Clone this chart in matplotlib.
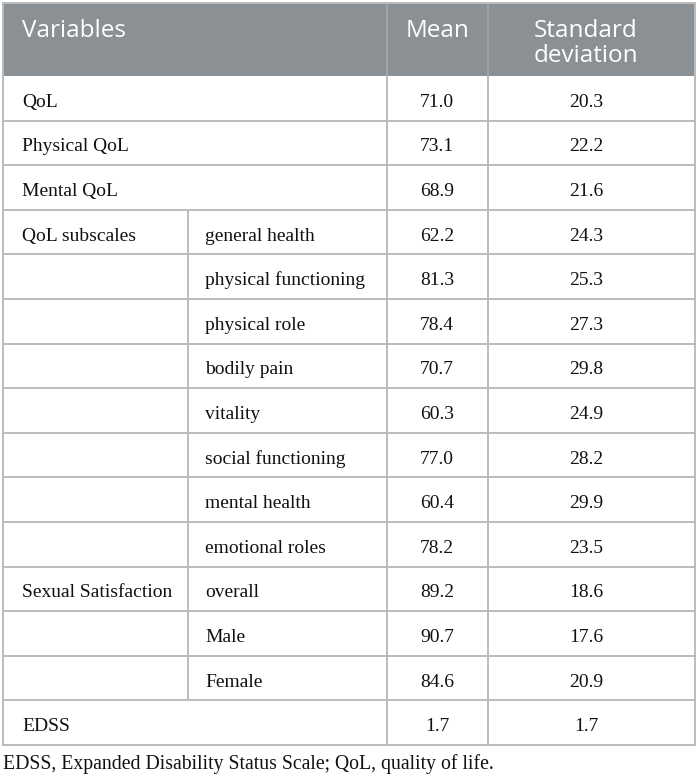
import matplotlib.pyplot as plt
from matplotlib.patches import Rectangle

# Table content
variables = ['QoL', 'Physical QoL', 'Mental QoL', 'QoL subscales', '', '', '', '', '', '', '',
             'Sexual Satisfaction', '', '', 'EDSS']
subscales = ['', '', '', 'general health', 'physical functioning', 'physical role', 'bodily pain',
             'vitality', 'social functioning', 'mental health', 'emotional roles',
             'overall', 'Male', 'Female', '']
means = [71.0, 73.1, 68.9, 62.2, 81.3, 78.4, 70.7, 60.3, 77.0, 60.4, 78.2, 89.2, 90.7, 84.6, 1.7]
sds = [20.3, 22.2, 21.6, 24.3, 25.3, 27.3, 29.8, 24.9, 28.2, 29.9, 23.5, 18.6, 17.6, 20.9, 1.7]
headers = ['Variables', 'Mean', 'Standard\ndeviation']
footnote = 'EDSS, Expanded Disability Status Scale; QoL, quality of life.'

# Layout (pixels)
W, H = 697, 780
left, right = 3, 695
col1_x, mean_x, sd_x = 188, 387, 488
top, head_bot = 3, 76
row_h = 44.6
line_col = '#bcbcbc'
head_col = '#8a9093'

fig = plt.figure(figsize=(W / 100, H / 100), dpi=100)
ax = fig.add_axes([0, 0, 1, 1])
ax.set_xlim(0, W)
ax.set_ylim(H, 0)
ax.axis('off')

# header
ax.add_patch(Rectangle((left, top), right - left, head_bot - top, facecolor=head_col,
                       edgecolor='none', zorder=1))
ax.plot([mean_x, mean_x], [top, head_bot], color='#a3a8ab', lw=1.2, zorder=2)
ax.plot([sd_x, sd_x], [top, head_bot], color='#a3a8ab', lw=1.2, zorder=2)
hfont = dict(family='Open Sans', fontsize=17.5, color='white', va='top', linespacing=1.05)
ax.text(22, 19, headers[0], ha='left', **hfont)
ax.text((mean_x + sd_x) / 2, 19, headers[1], ha='center', **hfont)
ax.text(586, 19, headers[2], ha='center', multialignment='center', **hfont)

# body
n = len(variables)
bottom = head_bot + n * row_h
bfont = dict(family='Liberation Serif', fontsize=14, color='#111111', va='baseline')
for i in range(n):
    y0 = head_bot + i * row_h
    base = y0 + row_h * 0.69
    ax.text(22, base, variables[i], ha='left', **bfont)
    if subscales[i]:
        ax.text(205, base, subscales[i], ha='left', **bfont)
        ax.plot([col1_x, col1_x], [y0, y0 + row_h], color=line_col, lw=1.4, zorder=2)
    ax.text(437, base, f'{means[i]:.1f}', ha='center', **bfont)
    ax.text(586, base, f'{sds[i]:.1f}', ha='center', **bfont)
    if i > 0:
        ax.plot([left, right], [y0, y0], color=line_col, lw=1.4, zorder=2)

for x in (mean_x, sd_x):
    ax.plot([x, x], [head_bot, bottom], color=line_col, lw=1.4, zorder=2)

# outer border
ax.add_patch(Rectangle((left, top), right - left, bottom - top, facecolor='none',
                       edgecolor=line_col, lw=1.4, zorder=3))

ax.text(left, bottom + 24, footnote, ha='left', family='Liberation Serif', fontsize=14.2,
        color='#111111', va='baseline')

fig.savefig('out.png', dpi=100)
